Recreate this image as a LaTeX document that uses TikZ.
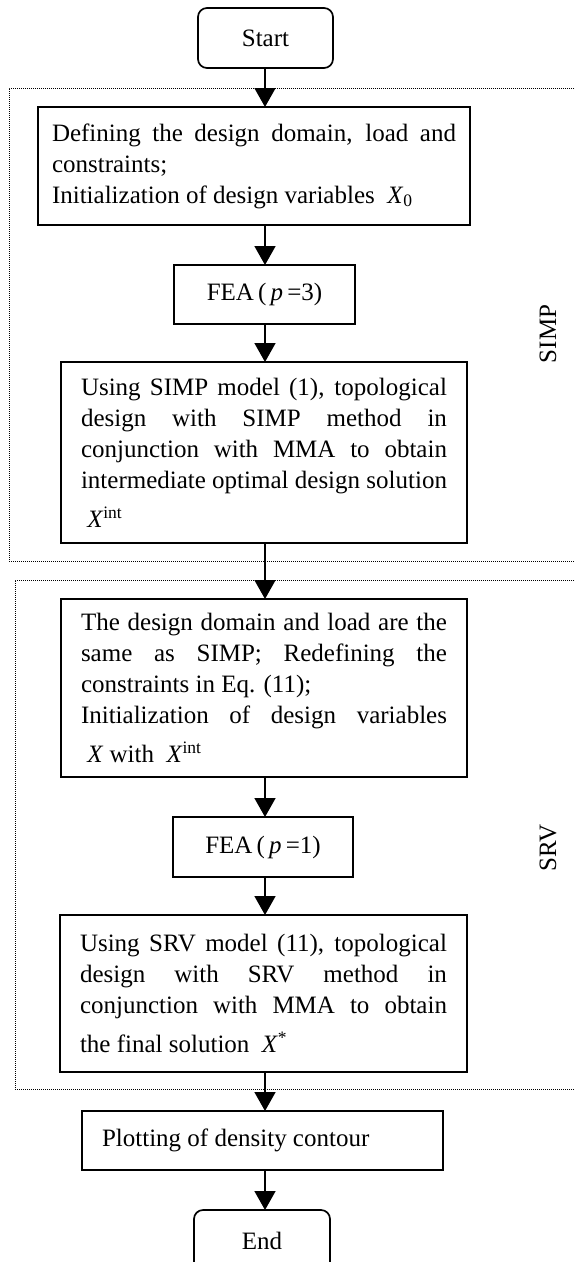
\documentclass[tikz,border=0pt]{standalone}
\usepackage{fontspec}
\setmainfont{Liberation Serif}
\usetikzlibrary{arrows.meta}
\newcommand\jl[2][366pt]{\makebox[#1][s]{\spaceskip=0pt\relax #2}}
\begin{document}
\begin{tikzpicture}[x=1pt,y=-1pt,
  font=\fontsize{25}{31}\selectfont,
  box/.style={draw, line width=1.7pt, inner ysep=0pt, outer sep=0pt},
  term/.style={box, rounded corners=9pt, inner xsep=0pt},
  tbox/.style={box, align=flush left},
  arr/.style={-{Triangle[length=19pt,width=21pt]}, line width=1.7pt},
  frame/.style={densely dotted, line width=1pt},
  lbl/.style={rotate=90, inner sep=0pt}]
\useasboundingbox (0,0) rectangle (574,1262);
\coordinate (ax) at (265,0);

% frames
\draw[frame] (574,88) -- (9,88) -- (9,561) -- (574,561);
\draw[frame] (574,580) -- (15,580) -- (15,1089) -- (574,1089);
\node[lbl] (simp) at (548,334) {SIMP};
\node[lbl] (srv) at (548,848) {SRV};

\node[term, minimum width=135pt, minimum height=60pt] (start) at (265.5,38) {Start};

\node[tbox, inner xsep=14pt, text width=404pt, minimum height=118pt] (b1) at (254,166)
 {\jl[404pt]{Defining the design domain, load and}\\
  constraints;\\
  Initialization of design variables\ \ \textit{X}\textsubscript{0}};

\node[box, inner xsep=0pt, minimum width=181pt, minimum height=59pt] (fea3) at (264.5,294.5)
 {FEA\,(\,\textit{p}\,=3)};

\node[tbox, inner xsep=20pt, text width=366pt, minimum height=181pt] (b3) at (264,452.5)
 {\jl{Using SIMP model (1), topological}\\
  \jl{design with SIMP method in}\\
  \jl{conjunction with MMA to obtain}\\
  \jl{intermediate optimal design solution}\\[8pt]
  \ \textit{X}\textsuperscript{int}};

\node[tbox, inner xsep=20pt, text width=366pt, minimum height=178pt] (b4) at (264,688)
 {\jl{The design domain and load are the}\\
  \jl{same as SIMP; Redefining the}\\
  constraints in Eq. (11);\\
  \jl{Initialization of design variables}\\[8pt]
  \ \textit{X} with\ \ \textit{X}\textsuperscript{int}};

\node[box, inner xsep=0pt, minimum width=180pt, minimum height=60pt] (fea1) at (263,847)
 {FEA\,(\,\textit{p}\,=1)};

\node[tbox, inner xsep=20pt, text width=367pt, minimum height=157pt] (b6) at (263.5,993.5)
 {\jl[367pt]{Using SRV model (11), topological}\\
  \jl[367pt]{design with SRV method in}\\
  \jl[367pt]{conjunction with MMA to obtain}\\[8pt]
  the final solution\ \ \textit{X}\textsuperscript{*}};

\node[tbox, inner xsep=20pt, text width=321pt, minimum height=59pt] (plot) at (262.5,1140.5)
 {Plotting of density contour};

\node[term, minimum width=136pt, minimum height=61pt] (end) at (262,1240.5) {End};

\draw[arr] (start.south -| ax) -- (b1.north -| ax);
\draw[arr] (b1.south -| ax) -- (fea3.north -| ax);
\draw[arr] (fea3.south -| ax) -- (b3.north -| ax);
\draw[arr] (b3.south -| ax) -- (b4.north -| ax);
\draw[arr] (b4.south -| ax) -- (fea1.north -| ax);
\draw[arr] (fea1.south -| ax) -- (b6.north -| ax);
\draw[arr] (b6.south -| ax) -- (plot.north -| ax);
\draw[arr] (plot.south -| ax) -- (end.north -| ax);
\end{tikzpicture}
\end{document}
